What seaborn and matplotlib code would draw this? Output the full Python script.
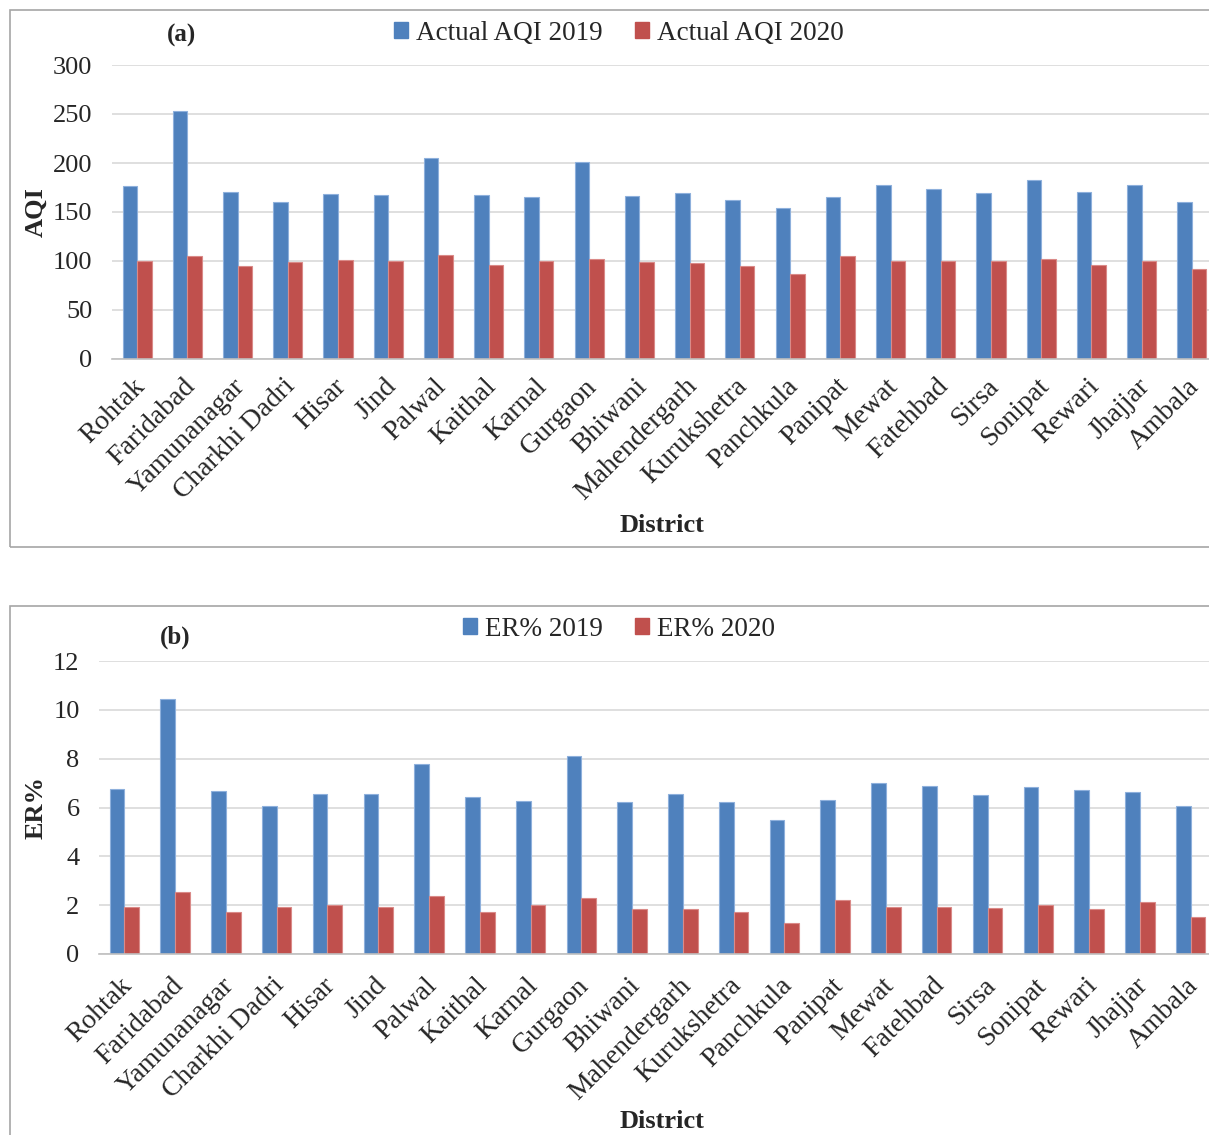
import numpy as np
import pandas as pd
import matplotlib
matplotlib.use("Agg")
import matplotlib.pyplot as plt
import matplotlib.transforms as mtransforms
from matplotlib.patches import Rectangle, Patch
import seaborn as sns

districts = ["Rohtak", "Faridabad", "Yamunanagar", "Charkhi Dadri", "Hisar", "Jind",
             "Palwal", "Kaithal", "Karnal", "Gurgaon", "Bhiwani", "Mahendergarh",
             "Kurukshetra", "Panchkula", "Panipat", "Mewat", "Fatehbad", "Sirsa",
             "Sonipat", "Rewari", "Jhajjar", "Ambala"]

aqi_2019 = [176.5, 253.5, 170.5, 160.5, 168, 167.5, 205, 167, 165, 201,
            166, 169.5, 162, 154.5, 165, 178, 173, 169.5, 183, 170.5, 177.5, 160]
aqi_2020 = [100.5, 105.5, 94.5, 98.5, 101.5, 100, 106.5, 95.5, 100.5, 102,
            99, 97.5, 94.5, 87, 105, 100, 99.5, 99.5, 102, 95.5, 100, 91.5]

er_2019 = [6.74, 10.45, 6.67, 6.07, 6.57, 6.55, 7.79, 6.42, 6.26, 8.09,
           6.23, 6.57, 6.22, 5.47, 6.29, 7.02, 6.90, 6.53, 6.86, 6.71, 6.65, 6.05]
er_2020 = [1.92, 2.54, 1.70, 1.91, 2.00, 1.92, 2.37, 1.72, 1.99, 2.28,
           1.84, 1.84, 1.70, 1.27, 2.22, 1.94, 1.91, 1.87, 1.99, 1.84, 2.13, 1.53]

aqi_labels = ["Actual AQI 2019", "Actual AQI 2020"]
er_labels = ["ER% 2019", "ER% 2020"]

BLUE = "#4F81BD"
RED = "#C0504D"
EDGE = {BLUE: "#8EB0DC", RED: "#DA8A88"}
GRID = "#D9D9D9"

sns.set_style("white")
plt.rcParams["font.family"] = ["Liberation Serif", "DejaVu Serif"]
plt.rcParams["font.size"] = 19

W, H = 1209, 1135
fig = plt.figure(figsize=(W / 100, H / 100), dpi=100)


def fx(px):
    return px / W


def fy(py):
    return 1 - py / H


def panel(rect_px, frame_px, values, labels, ylabel, ymax, ystep, tag, tag_xy,
          leg_xy, xlabel_y, xpad):
    left, top, right, bottom = rect_px
    ax = fig.add_axes([fx(left), fy(bottom), fx(right - left), (bottom - top) / H])
    df = pd.DataFrame({
        "District": districts * 2,
        "Value": list(values[0]) + list(values[1]),
        "Series": [labels[0]] * len(districts) + [labels[1]] * len(districts),
    })
    sns.barplot(data=df, x="District", y="Value", hue="Series", hue_order=labels,
                palette=[BLUE, RED], width=0.58, saturation=1, ax=ax,
                legend=False, errorbar=None)
    for cont, col in zip(ax.containers, [BLUE, RED]):
        for bar in cont:
            bar.set_edgecolor(EDGE[col])
            bar.set_linewidth(0.8)

    ax.set_xlim(-0.5, len(districts) - 0.5)
    ax.set_ylim(0, ymax)
    ax.set_yticks(np.arange(0, ymax + ystep / 2, ystep))
    ax.yaxis.grid(True, color=GRID, linewidth=1.2)
    ax.set_axisbelow(True)
    for s in ["top", "right", "left"]:
        ax.spines[s].set_visible(False)
    ax.spines["bottom"].set_color("#BFBFBF")
    ax.spines["bottom"].set_linewidth(1.2)

    ax.tick_params(axis="y", length=8, color=GRID, width=1.2, pad=6, labelsize=19)
    ax.set_xticks(np.arange(len(districts)))
    ax.set_xticks(np.arange(len(districts) + 1) - 0.5, minor=True)
    ax.tick_params(axis="x", which="major", length=0, pad=xpad)
    ax.tick_params(axis="x", which="minor", length=8, color="#BFBFBF", width=1.2)
    ax.set_xticklabels(districts, rotation=45, ha="right", va="center",
                       rotation_mode="anchor", fontsize=20)
    shift = mtransforms.ScaledTranslation(4 / 100, 0, fig.dpi_scale_trans)
    for lab in ax.get_xticklabels():
        lab.set_transform(lab.get_transform() + shift)

    ax.set_xlabel("")
    ax.set_ylabel(ylabel, fontsize=19, fontweight="bold", labelpad=4)
    fig.text(fx(662), fy(xlabel_y), "District", ha="center", va="center",
             fontsize=19, fontweight="bold")
    fig.text(fx(tag_xy[0]), fy(tag_xy[1]), tag, ha="center", va="center",
             fontsize=18, fontweight="bold")

    handles = [Patch(facecolor=BLUE, edgecolor=BLUE), Patch(facecolor=RED, edgecolor=RED)]
    fig.legend(handles, labels, loc="center", bbox_to_anchor=(fx(leg_xy[0]), fy(leg_xy[1])),
               ncol=2, frameon=False, fontsize=19.5, handlelength=0.5, handleheight=0.5,
               handletextpad=0.3, columnspacing=1.2)

    fx0, fy0, fx1, fy1 = frame_px
    fig.patches.append(Rectangle((fx(fx0), fy(fy1)), fx(fx1 - fx0), (fy1 - fy0) / H,
                                 transform=fig.transFigure, fill=False,
                                 edgecolor="#A6A6A6", linewidth=1.2, zorder=0))
    return ax


panel((112, 65, 1217, 359), (10, 10, 1220, 547), (aqi_2019, aqi_2020), aqi_labels,
      "AQI", 300, 50, "(a)", (181, 35), (619, 33), 526, 17)
panel((99, 661, 1216, 954), (10, 606, 1220, 1145), (er_2019, er_2020), er_labels,
      "ER%", 12, 2, "(b)", (175, 637), (619, 629), 1121, 20)

fig.savefig("out.png", dpi=100)
